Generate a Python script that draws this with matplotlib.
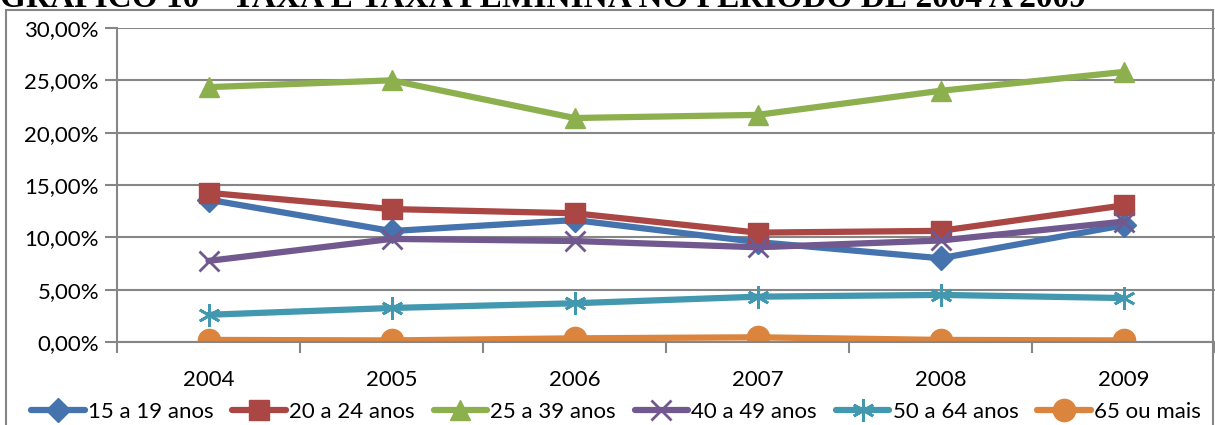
import matplotlib
matplotlib.use("Agg")
import matplotlib.pyplot as plt
from matplotlib.patches import Rectangle
from matplotlib.ticker import FixedLocator, FuncFormatter

years = ["2004", "2005", "2006", "2007", "2008", "2009"]
series_names = ["15 a 19 anos", "20 a 24 anos", "25 a 39 anos",
                "40 a 49 anos", "50 a 64 anos", "65 ou mais"]
taxa_15_19 = [0.1360, 0.1060, 0.1165, 0.0955, 0.0800, 0.1115]
taxa_20_24 = [0.1425, 0.1270, 0.1230, 0.1045, 0.1062, 0.1305]
taxa_25_39 = [0.2435, 0.2500, 0.2140, 0.2170, 0.2400, 0.2580]
taxa_40_49 = [0.0775, 0.0985, 0.0965, 0.0905, 0.0970, 0.1150]
taxa_50_64 = [0.0260, 0.0325, 0.0370, 0.0433, 0.0450, 0.0420]
taxa_65_mais = [0.0020, 0.0015, 0.0035, 0.0045, 0.0020, 0.0015]
yticks = [0.0, 0.05, 0.10, 0.15, 0.20, 0.25, 0.30]
title = "GRÁFICO 10 – TAXA E TAXA FEMININA NO PERÍODO DE 2004 A 2009"

all_series = [taxa_15_19, taxa_20_24, taxa_25_39, taxa_40_49, taxa_50_64, taxa_65_mais]
colors = ["#4473AD", "#AA4643", "#8DB04F", "#71588F", "#4198AF", "#DB843D"]
markers = ["D", "s", "^", "x", "*", "o"]
msizes = [12, 14, 15, 14, 16, 16]

plt.rcParams["font.family"] = ["Lato", "DejaVu Sans"]
W, H = 1215, 425
fig = plt.figure(figsize=(W / 100, H / 100), dpi=100)

grey = "#868686"
# chart frame
fig.patches.append(Rectangle((6 / W, -0.05), (1213 - 6) / W, 1 - 10 / H + 0.05,
                             transform=fig.transFigure, fill=False,
                             edgecolor=grey, linewidth=1.5))

fig.text(0.0, 1 - 7 / H, title, ha="left", va="baseline", fontsize=24,
         fontweight="bold", family=["Liberation Serif", "DejaVu Serif"])

ax = fig.add_axes([117 / W, 1 - 342 / H, (1215 - 117) / W, (342 - 28) / H])
x = [i + 0.5 for i in range(len(years))]
for vals, name, c, m, ms in zip(all_series, series_names, colors, markers, msizes):
    mew = 2 if m in ("x", "*") else 1
    kw = dict(markeredgecolor=c, markerfacecolor=c, markeredgewidth=mew)
    if m == "*":
        m = (6, 2, 0)
    ax.plot(x, vals, color=c, linewidth=4.5, marker=m, markersize=ms,
            label=name, solid_capstyle="round", solid_joinstyle="round", **kw)

ax.set_xlim(0, len(years))
ax.set_ylim(0, 0.30)
ax.xaxis.set_major_locator(FixedLocator(range(len(years) + 1)))
ax.xaxis.set_major_formatter(FuncFormatter(lambda v, p: ""))
ax.xaxis.set_minor_locator(FixedLocator(x))
ax.set_xticklabels(years, minor=True)
ax.tick_params(axis="x", which="minor", length=0, labelsize=16, pad=20)
ax.tick_params(axis="x", which="major", length=8, width=1.5, color=grey)
ax.set_yticks(yticks)
ax.yaxis.set_major_formatter(FuncFormatter(lambda v, p: f"{v*100:.2f}%".replace(".", ",")))
ax.tick_params(axis="y", length=9, width=1.5, color=grey, labelsize=16, pad=4)
ax.grid(axis="y", color=grey, linewidth=1.5)
ax.set_axisbelow(True)
for s in ["top", "right"]:
    ax.spines[s].set_visible(False)
for s in ["left", "bottom"]:
    ax.spines[s].set_color(grey)
    ax.spines[s].set_linewidth(1.5)

fig.legend(loc="center", bbox_to_anchor=(616 / W, 1 - 412 / H), ncol=6,
           frameon=False, fontsize=16, handlelength=2.4, handletextpad=0.15,
           columnspacing=0.85, borderaxespad=0)

fig.savefig("out.png", dpi=100)
